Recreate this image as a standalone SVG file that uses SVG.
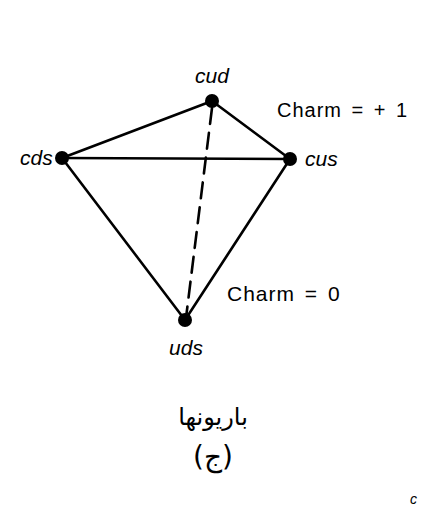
<svg xmlns="http://www.w3.org/2000/svg" width="424" height="506" viewBox="0 0 424 506">
<style>
.edge{stroke:#000;stroke-width:2.6;fill:none;stroke-linecap:round}
.dash{stroke-dasharray:16 9}
.dot{fill:#000}
.lbl{font-family:"Liberation Sans",Arial,sans-serif;font-style:italic;font-size:21px;fill:#000}
.ch{font-family:"Liberation Sans",Arial,sans-serif;font-size:20px;letter-spacing:1px;word-spacing:3px;fill:#000}
.fa{font-family:"DejaVu Sans","Noto Sans",sans-serif;font-size:24px;fill:#000}
</style>
<rect width="424" height="506" fill="#fff"/>
<g id="connectors">
<line class="edge" x1="62" y1="158" x2="212" y2="101"/>
<line class="edge" x1="212" y1="101" x2="290" y2="159"/>
<line class="edge" x1="62" y1="158" x2="290" y2="159"/>
<line class="edge" x1="62" y1="158" x2="185" y2="320"/>
<line class="edge" x1="290" y1="159" x2="185" y2="320"/>
<line class="edge dash" x1="212" y1="108" x2="186" y2="318"/>
</g>
<g id="cud"><circle class="dot" cx="212" cy="101" r="7"/><text class="lbl" x="212" y="83" text-anchor="middle">cud</text></g>
<g id="cds"><circle class="dot" cx="62" cy="158" r="7"/><text class="lbl" x="20" y="165">cds</text></g>
<g id="cus"><circle class="dot" cx="290" cy="159" r="7"/><text class="lbl" x="305" y="166">cus</text></g>
<g id="uds"><circle class="dot" cx="185" cy="320" r="7"/><text class="lbl" x="186" y="355" text-anchor="middle">uds</text></g>
<text class="ch" x="277" y="117">Charm = + 1</text>
<text class="ch" x="227" y="301" style="font-size:21px">Charm = 0</text>
<text class="fa" x="213" y="425" text-anchor="middle" direction="rtl">باریونها</text>
<text class="fa" x="213" y="466" text-anchor="middle" style="font-size:28px">(ج)</text>
<text class="lbl" x="410" y="504" style="font-size:14px">c</text>
</svg>
